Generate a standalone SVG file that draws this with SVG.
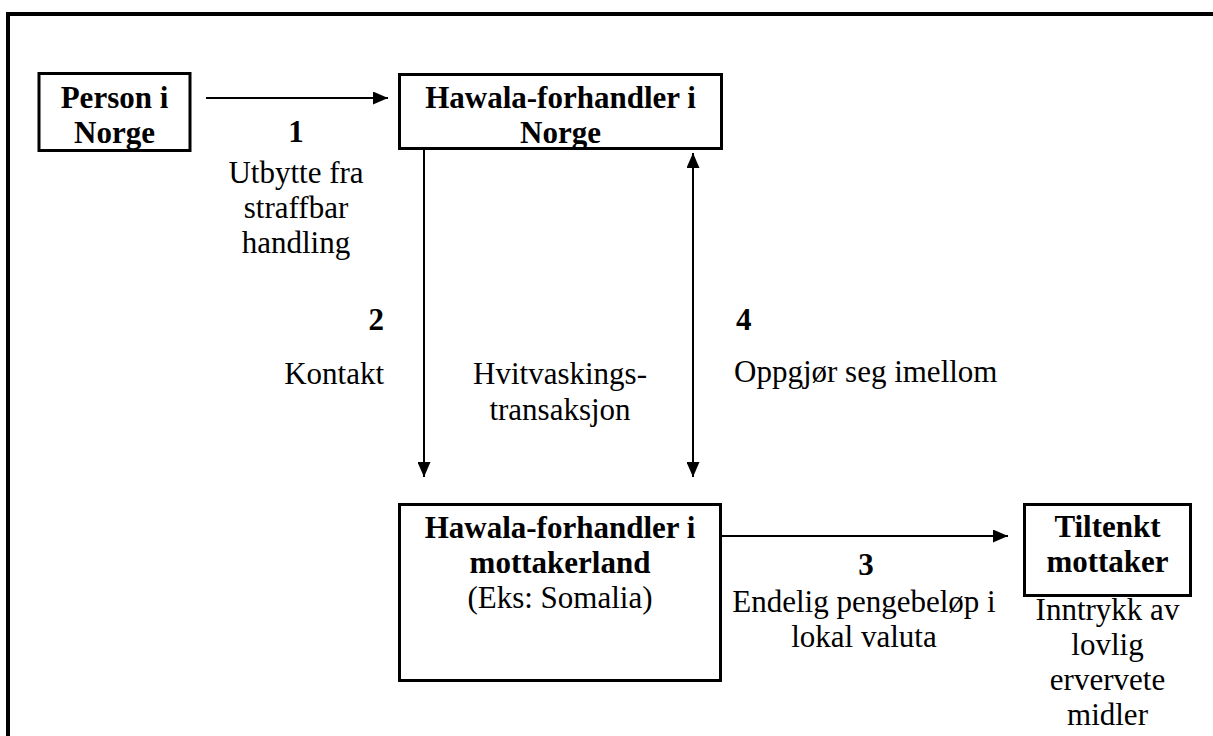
<svg xmlns="http://www.w3.org/2000/svg" width="1213" height="736" viewBox="0 0 1213 736">
<style>
  text { font-family: 'Liberation Serif', 'Times New Roman', serif; font-size: 31px; fill: #000; }
  .b { font-weight: bold; }
  .c { text-anchor: middle; }
  .r { text-anchor: end; }
  .box { fill: #fff; stroke: #000; stroke-width: 3; }
  .conn { stroke: #000; stroke-width: 2; fill: none; }
</style>
<defs>
  <marker id="ah" markerUnits="userSpaceOnUse" markerWidth="15" markerHeight="13" refX="15" refY="6.5" orient="auto-start-reverse">
    <path d="M0,0 L15,6.5 L0,13 z" fill="#000"/>
  </marker>
</defs>
<rect width="1213" height="736" fill="#fff"/>
<path d="M8,740 V14 H1215" fill="none" stroke="#000" stroke-width="4"/>

<g id="connectors">
  <line class="conn" x1="206" y1="98" x2="388" y2="98" marker-end="url(#ah)"/>
  <line class="conn" x1="424" y1="150" x2="424" y2="477" marker-end="url(#ah)"/>
  <line class="conn" x1="693" y1="153" x2="693" y2="477" marker-start="url(#ah)" marker-end="url(#ah)"/>
  <line class="conn" x1="722" y1="536" x2="1008" y2="536" marker-end="url(#ah)"/>
</g>

<g id="node-person">
  <rect class="box" x="39" y="73.5" width="151" height="77"/>
  <text class="b c" x="114.5" y="108">Person i</text>
  <text class="b c" x="114.5" y="143">Norge</text>
</g>

<g id="node-hawala-norge">
  <rect class="box" x="399.5" y="74.5" width="322" height="74"/>
  <text class="b c" x="560.5" y="108">Hawala-forhandler i</text>
  <text class="b c" x="560.5" y="143">Norge</text>
</g>

<g id="node-hawala-mottakerland">
  <rect class="box" x="399.5" y="504.5" width="321" height="176"/>
  <text class="b c" x="560" y="538">Hawala-forhandler i</text>
  <text class="b c" x="560" y="573">mottakerland</text>
  <text class="c" x="560" y="608">(Eks: Somalia)</text>
</g>

<g id="node-tiltenkt">
  <rect class="box" x="1024.5" y="504.5" width="166" height="91"/>
  <text class="b c" x="1107.5" y="537">Tiltenkt</text>
  <text class="b c" x="1107.5" y="572">mottaker</text>
</g>

<g id="labels">
  <text class="b c" x="296" y="142">1</text>
  <text class="c" x="296" y="183">Utbytte fra</text>
  <text class="c" x="296" y="218">straffbar</text>
  <text class="c" x="296" y="253">handling</text>

  <text class="b r" x="384" y="330">2</text>
  <text class="r" x="384" y="384">Kontakt</text>

  <text class="c" x="560" y="384">Hvitvaskings-</text>
  <text class="c" x="560" y="420">transaksjon</text>

  <text class="b" x="736" y="330">4</text>
  <text x="734" y="382">Oppgjør seg imellom</text>

  <text class="b c" x="866" y="575">3</text>
  <text class="c" x="864" y="612">Endelig pengebeløp i</text>
  <text class="c" x="864" y="647">lokal valuta</text>

  <text class="c" x="1107.5" y="620">Inntrykk av</text>
  <text class="c" x="1107.5" y="655">lovlig</text>
  <text class="c" x="1107.5" y="690">ervervete</text>
  <text class="c" x="1107.5" y="725">midler</text>
</g>
</svg>
